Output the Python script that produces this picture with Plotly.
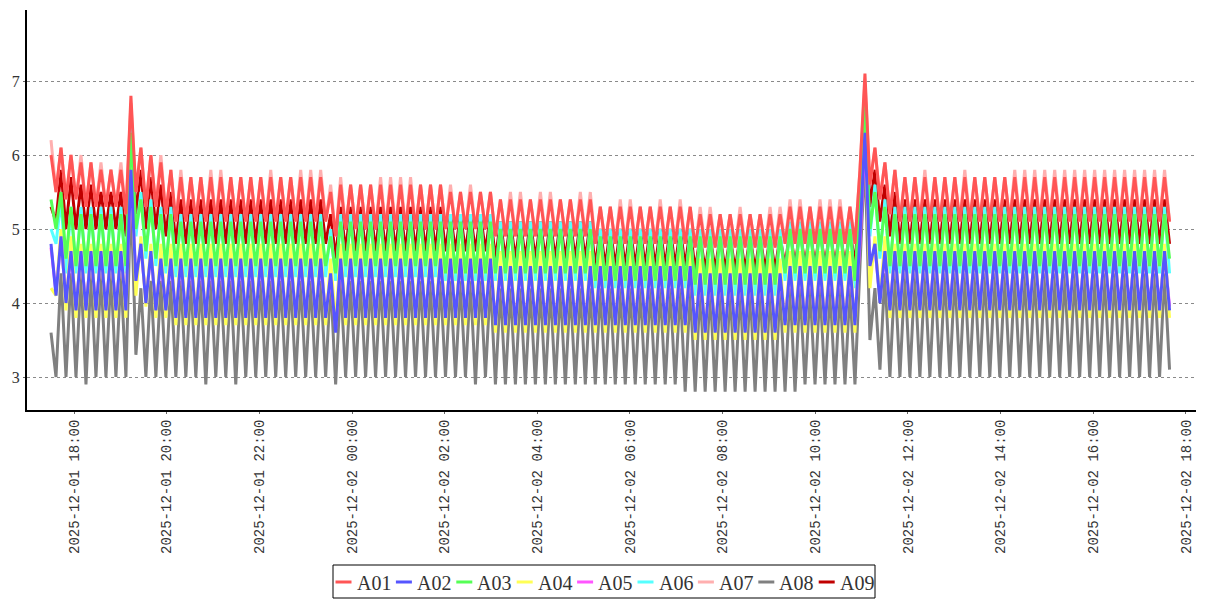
import pandas as pd
import plotly.graph_objects as go

# ---------------------------------------------------------------------------
# Data.
# Each series is written as a run list:
#   (v,)          -> one reading
#   (lo, hi, n)   -> n repetitions of the alternating pair  lo, hi
# ---------------------------------------------------------------------------
names = ["A01", "A02", "A03", "A04", "A05", "A06", "A07", "A08", "A09"]
colors = ["#FF5555", "#5555FF", "#55FF55", "#FFFF55", "#FF55FF",
          "#55FFFF", "#FFAFAF", "#808080", "#C00000"]

start_time = "2025-12-01 17:30:13"
n_points = 225
step = "388s"

A01 = [(6.0,), (5.5, 6.1, 1), (5.4, 6.0, 1), (5.4, 5.9, 1), (5.3, 5.9, 1), (5.3, 5.8, 3), (5.2,), (6.8,),
       (5.5, 6.1, 1), (5.3, 6.0, 1), (5.3, 5.9, 1), (5.2, 5.8, 1), (5.1, 5.7, 15), (5.1, 5.5, 1), (4.9, 5.6, 1),
       (5.0, 5.6, 10), (5.0, 5.5, 5), (4.9, 5.4, 10), (4.8, 5.3, 10), (4.75, 5.2, 9), (4.8, 5.3, 7),
       (4.8,), (5.8,), (7.1,),
       (5.6, 6.1, 1), (5.4, 5.9, 1), (5.2, 5.8, 1), (5.1, 5.7, 27),
       (5.1,)]

A02 = [(4.8,), (4.1, 4.9, 1), (4.0, 4.7, 1), (3.9, 4.7, 5), (3.9,), (5.8,),
       (4.3, 4.8, 1), (4.0, 4.7, 1), (3.9, 4.6, 2), (3.8, 4.6, 15), (3.8, 4.4, 1), (3.6, 4.6, 1),
       (3.8, 4.6, 15), (3.7, 4.5, 20), (3.6, 4.4, 9), (3.7, 4.5, 7),
       (3.7,), (4.9,), (6.3,),
       (4.5, 4.8, 1), (4.0, 4.7, 1), (3.9, 4.7, 28),
       (3.9,)]

A03 = [(5.4,), (5.0, 5.5, 1), (4.6, 5.3, 1), (4.5, 5.2, 5), (4.5,), (6.3,),
       (5.0, 5.4, 1), (4.7, 5.3, 1), (4.6, 5.2, 1), (4.5, 5.2, 1), (4.5, 5.1, 15), (4.5, 4.9, 1), (4.4, 5.1, 1),
       (4.5, 5.1, 10), (4.4, 5.1, 5), (4.4, 5.0, 10), (4.3, 4.9, 10), (4.25, 4.9, 9), (4.4, 5.0, 7),
       (4.3,), (5.4,), (6.7,),
       (5.0, 5.5, 1), (4.7, 5.3, 1), (4.5, 5.2, 28),
       (4.6,)]

A04 = [(4.2,), (4.1, 5.0, 1), (3.9, 4.9, 1), (3.8, 4.8, 5), (3.8,), (6.1,),
       (4.1, 4.9, 1), (3.95, 4.8, 1), (3.8, 4.8, 2), (3.7, 4.8, 15), (3.7, 4.6, 1), (3.7, 4.8, 16),
       (3.6, 4.7, 20), (3.5, 4.6, 9), (3.6, 4.7, 7),
       (3.6,), (5.1,), (6.5,),
       (4.2, 4.9, 1), (4.0, 4.9, 1), (3.8, 4.8, 28),
       (3.8,)]

A05 = [(4.75,), (4.15, 4.85, 1), (4.05, 4.65, 1), (3.95, 4.65, 5), (3.95,), (5.7,),
       (4.35, 4.75, 1), (4.05, 4.65, 1), (3.95, 4.55, 2), (3.85, 4.55, 15), (3.85, 4.35, 1), (3.65, 4.55, 1),
       (3.85, 4.55, 15), (3.75, 4.45, 20), (3.65, 4.35, 9), (3.75, 4.45, 7),
       (3.75,), (4.8,), (6.2,),
       (4.5, 4.75, 1), (4.05, 4.65, 1), (3.95, 4.65, 28),
       (3.95,)]

A06 = [(5.0,), (4.8, 5.4, 1), (4.4, 5.3, 6), (4.4,), (6.35,),
       (4.9, 5.5, 1), (4.6, 5.4, 1), (4.5, 5.3, 1), (4.4, 5.3, 1), (4.35, 5.2, 15), (4.35, 5.0, 1), (4.3, 5.2, 1),
       (4.35, 5.2, 10), (4.3, 5.2, 5), (4.3, 5.1, 10), (4.2, 5.0, 10), (4.1, 5.0, 9), (4.3, 5.1, 7),
       (4.2,), (5.5,), (6.75,),
       (4.9, 5.6, 1), (4.6, 5.4, 1), (4.4, 5.3, 28),
       (4.4,)]

A07 = [(6.2,), (5.5, 6.1, 1), (5.4, 6.0, 2), (5.3, 5.9, 2), (5.3, 5.8, 1), (5.3, 5.9, 1), (5.2,), (6.7,),
       (5.5, 6.1, 1), (5.3, 6.0, 2), (5.2, 5.8, 1),
       (5.1, 5.8, 1), (5.1, 5.7, 2), (5.1, 5.8, 2), (5.1, 5.7, 4), (5.1, 5.8, 1), (5.1, 5.7, 2), (5.1, 5.8, 3),
       (5.1, 5.6, 1), (4.9, 5.7, 1),
       (5.0, 5.6, 3), (5.0, 5.7, 4), (5.0, 5.6, 3),
       (5.0, 5.6, 1), (5.0, 5.5, 1), (5.0, 5.6, 1), (5.0, 5.5, 2),
       (4.9, 5.4, 1), (4.9, 5.5, 2), (4.9, 5.4, 1), (4.9, 5.5, 2), (4.9, 5.4, 2), (4.9, 5.5, 2),
       (4.8, 5.3, 2), (4.8, 5.4, 2), (4.8, 5.3, 2), (4.8, 5.4, 1), (4.8, 5.3, 1), (4.8, 5.4, 1), (4.8, 5.3, 1),
       (4.75, 5.3, 2), (4.75, 5.2, 2), (4.75, 5.3, 1), (4.75, 5.2, 2), (4.75, 5.3, 2),
       (4.8, 5.4, 2), (4.8, 5.3, 1), (4.8, 5.4, 3), (4.8, 5.3, 1),
       (4.8,), (5.8,), (7.0,),
       (5.6, 6.1, 1), (5.4, 5.9, 1), (5.2, 5.8, 1), (5.1, 5.7, 2), (5.1, 5.8, 1), (5.1, 5.7, 3), (5.1, 5.8, 1),
       (5.1, 5.7, 4), (5.1, 5.8, 16),
       (5.1,)]

A08 = [(3.6,), (3.0, 4.4, 3), (2.9, 4.4, 1), (3.0, 4.4, 3), (3.0,), (5.5,),
       (3.3, 4.2, 1), (3.0, 4.3, 6), (2.9, 4.3, 1), (3.0, 4.3, 2), (2.9, 4.3, 1), (3.0, 4.3, 9), (2.9, 4.3, 1),
       (3.0, 4.3, 13), (2.9, 4.3, 1), (3.0, 4.3, 1), (2.9, 4.2, 19), (2.8, 4.2, 12), (2.9, 4.2, 5),
       (2.9,), (4.5,), (6.0,),
       (3.5, 4.2, 1), (3.1, 4.4, 1), (3.0, 4.4, 28),
       (3.1,)]

A09 = [(5.3,), (5.1, 5.8, 1), (5.0, 5.7, 1), (5.0, 5.6, 2), (5.0, 5.5, 3), (4.9,), (6.5,),
       (5.2, 5.8, 1), (5.0, 5.7, 1), (5.0, 5.6, 1), (4.9, 5.5, 1), (4.8, 5.4, 15), (4.8, 5.2, 1), (4.6, 5.3, 1),
       (4.7, 5.3, 10), (4.7, 5.2, 5), (4.6, 5.1, 10), (4.5, 5.0, 10), (4.45, 4.9, 9), (4.5, 5.0, 7),
       (4.5,), (5.5,), (6.9,),
       (5.3, 5.8, 1), (5.1, 5.6, 1), (4.9, 5.5, 1), (4.8, 5.4, 27),
       (4.8,)]

x_range = ["2025-12-01 16:59:07", "2025-12-02 18:13:00"]
y_range = [2.554, 7.96]
tick_start = "2025-12-01 18:00"


def expand(runs):
    out = []
    for r in runs:
        if len(r) == 1:
            out.append(r[0])
        else:
            lo, hi, n = r
            out.extend([lo, hi] * n)
    return out


series = [A01, A02, A03, A04, A05, A06, A07, A08, A09]
times = pd.date_range(start_time, periods=n_points, freq=step)

# layout geometry in page pixels; the page body adds an 8 px offset
PAGE_W, PAGE_H, BODY = 1207, 600, 8
W, H = PAGE_W - BODY, PAGE_H - BODY
PL, PR, PT, PB = 27, 1196, 10, 410          # plot area in page pixels
ML, MR, MT, MB = PL - BODY, PAGE_W - PR, PT - BODY, PAGE_H - PB
PW, PH = PR - PL, PB - PT


def px(xpage):
    return (xpage - PL) / PW


def py(ypage):
    return (PB - ypage) / PH


fig = go.Figure()
# draw last series first so that A01 ends up on top (as in the reference)
for idx in reversed(range(len(names))):
    vals = expand(series[idx])
    assert len(vals) == n_points, (names[idx], len(vals))
    fig.add_trace(go.Scatter(
        x=times, y=vals, mode="lines", name=names[idx],
        line=dict(color=colors[idx], width=3),
        showlegend=False,
    ))

# compact legend box (layout decoration matching the reference's short swatches)
LEG_X0, LEG_X1, LEG_Y0, LEG_Y1 = 333, 875, 565, 598
ITEM_PITCH, SW_LEN, TXT_GAP, LEG_YC, FIRST_X = 60.4, 16, 3, 582, 335.5
shapes = [dict(type="rect", xref="paper", yref="paper",
               x0=px(LEG_X0), x1=px(LEG_X1), y0=py(LEG_Y1), y1=py(LEG_Y0),
               line=dict(color="black", width=1), fillcolor="white", layer="above")]
annotations = []
for i, (nm, col) in enumerate(zip(names, colors)):
    x0 = FIRST_X + ITEM_PITCH * i
    shapes.append(dict(type="line", xref="paper", yref="paper",
                       x0=px(x0), x1=px(x0 + SW_LEN), y0=py(LEG_YC), y1=py(LEG_YC),
                       line=dict(color=col, width=3), layer="above"))
    annotations.append(dict(xref="paper", yref="paper", x=px(x0 + SW_LEN + TXT_GAP), y=py(LEG_YC + 1),
                            text=nm, showarrow=False, xanchor="left", yanchor="middle",
                            font=dict(family="Liberation Serif", size=20, color="#333333")))

fig.update_layout(
    width=W, height=H,
    margin=dict(l=ML, r=MR, t=MT, b=MB, autoexpand=False),
    plot_bgcolor="white", paper_bgcolor="white",
    font=dict(family="Liberation Serif", color="#333333"),
    showlegend=False,
    shapes=shapes, annotations=annotations,
)
fig.update_xaxes(
    type="date", range=x_range, automargin=False,
    tick0=tick_start, dtick=2 * 3600 * 1000,
    tickformat="%Y-%m-%d %H:%M", tickangle=-90,
    tickfont=dict(family="Liberation Mono", size=14, color="#333333"),
    showgrid=False, zeroline=False,
    showline=True, linecolor="black", linewidth=2,
    ticks="outside", ticklen=2, tickcolor="#666666",
)
fig.update_yaxes(
    range=y_range, tick0=0, dtick=1, automargin=False,
    tickfont=dict(family="Liberation Serif", size=16, color="#333333"),
    showgrid=True, gridcolor="#8a8a8a", gridwidth=1, griddash="dot",
    zeroline=False,
    showline=True, linecolor="black", linewidth=2,
    ticks="outside", ticklen=2, tickcolor="#666666",
)

fig.write_html("out.html")
